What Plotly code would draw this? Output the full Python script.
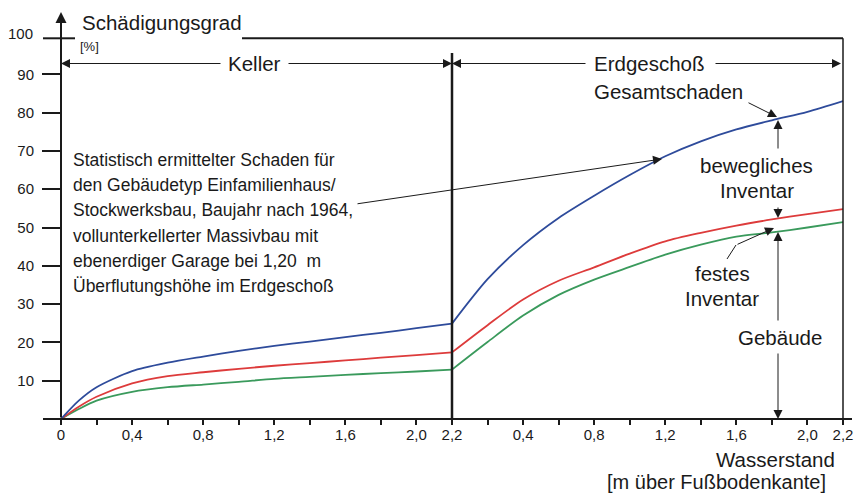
import plotly.graph_objects as go

# Wasserstand: 0-2,2 Keller, danach 2,2-4,4 = Erdgeschoß 0-2,2
wasserstand = [0, 0.1, 0.2, 0.4, 0.6, 0.8, 1.0, 1.2, 1.4, 1.6, 1.8, 2.0, 2.2,
               2.4, 2.6, 2.8, 3.0, 3.2, 3.4, 3.6, 3.8, 4.0, 4.2, 4.4]
gesamtschaden = [0, 4.8, 8.3, 12.5, 14.7, 16.3, 17.8, 19.1, 20.2, 21.4, 22.5, 23.7, 24.9,
                 36.5, 45.4, 52.5, 58.3, 63.7, 68.6, 72.5, 75.6, 78.0, 80.2, 83.0]
bewegliches = [0, 3.2, 5.8, 9.3, 11.2, 12.2, 13.1, 13.9, 14.6, 15.3, 16.0, 16.7, 17.4,
               24.5, 31.2, 36.1, 39.6, 43.2, 46.4, 48.6, 50.5, 52.1, 53.5, 54.8]
festes = [0, 2.6, 4.8, 7.1, 8.3, 9.0, 9.7, 10.5, 11.0, 11.5, 12.0, 12.4, 12.9,
          20.1, 27.0, 32.4, 36.4, 39.7, 42.9, 45.5, 47.6, 48.7, 50.0, 51.4]

tick_pos = [0, 0.2, 0.4, 0.6, 0.8, 1.0, 1.2, 1.4, 1.6, 1.8, 2.0, 2.2,
            2.4, 2.6, 2.8, 3.0, 3.2, 3.4, 3.6, 3.8, 4.0, 4.2, 4.4]
tick_text = ["0", "", "0,4", "", "0,8", "", "1,2", "", "1,6", "", "2,0", "2,2",
             "", "0,4", "", "0,8", "", "1,2", "", "1,6", "", "2,0", "2,2"]
y_ticks = [10, 20, 30, 40, 50, 60, 70, 80, 90]

beschreibung = ["Statistisch ermittelter Schaden für",
                "den Gebäudetyp Einfamilienhaus/",
                "Stockwerksbau, Baujahr nach 1964,",
                "vollunterkellerter Massivbau mit",
                "ebenerdiger Garage bei 1,20  m",
                "Überflutungshöhe im Erdgeschoß"]

ink = "#1a1a1a"
font = "Liberation Sans, Arial, sans-serif"

W, H = 855, 494
L, R, T, B = 61, 12, 36, 75
pw, ph = W - L - R, H - T - B


def px(x):
    return (x - L) / pw


def py(y):
    return (H - B - y) / ph


fig = go.Figure()
knick = wasserstand.index(2.2)  # Übergang Keller -> Erdgeschoß
for vals, col in [(festes, "#3a9a5c"), (bewegliches, "#dd3b3b"), (gesamtschaden, "#2e4b9b")]:
    for sl in (slice(0, knick + 1), slice(knick, None)):
        fig.add_trace(go.Scatter(x=wasserstand[sl], y=vals[sl], mode="lines",
                                 line=dict(color=col, width=1.8, shape="spline", smoothing=0.8),
                                 showlegend=False, hoverinfo="skip"))


def line(x0, y0, x1, y1, w=1.0):
    fig.add_shape(type="line", xref="paper", yref="paper",
                  x0=px(x0), y0=py(y0), x1=px(x1), y1=py(y1),
                  line=dict(color=ink, width=w))


def arrow(tail, tip, w=1.0, size=1.8):
    fig.add_annotation(x=px(tip[0]), y=py(tip[1]), xref="paper", yref="paper",
                       ax=tail[0] - tip[0], ay=tail[1] - tip[1], text="",
                       showarrow=True, arrowhead=2, arrowsize=size, arrowwidth=w,
                       arrowcolor=ink, standoff=0)


def label(x, y, text, size=20.5, anchor="center"):
    fig.add_annotation(x=px(x), y=py(y), xref="paper", yref="paper", text=text,
                       showarrow=False, xanchor=anchor, yanchor="middle",
                       font=dict(size=size, color=ink, family=font))


# Achsen und Rahmen
line(43, 419, 852, 419, 2)
arrow((61, 419), (61, 12), w=2, size=1.1)
line(43, 38.3, 75, 38.3, 2)
line(242, 38.3, 843, 38.3, 2)
line(452, 53, 452, 419, 2.5)
line(843, 38.3, 843, 419, 1.5)
label(35, 33, "100", size=15, anchor="right")
label(80, 22, "Schädigungsgrad", anchor="left")
label(78, 46, "[%]", size=13, anchor="left")

# Keller / Erdgeschoß
arrow((222, 63.5), (61, 63.5))
arrow((287, 63.5), (452, 63.5))
label(254, 63.5, "Keller")
arrow((587, 63.5), (452, 63.5))
arrow((714, 63.5), (841, 63.5))
label(649, 63.5, "Erdgeschoß")

# Beschriftungen rechts
label(668, 92, "Gesamtschaden")
arrow((747, 102), (777, 117))
arrow((778, 150), (778, 120))
label(756, 165, "bewegliches")
label(757, 190, "Inventar")
arrow((778, 206), (778, 218))
arrow((778, 322), (778, 232))
arrow((778, 352), (778, 419))
label(780, 337, "Gebäude")
label(722, 273, "festes")
label(722, 298, "Inventar")
line(727, 259, 736, 245)
arrow((736, 245), (774, 228))

# Textblock
for i, txt in enumerate(beschreibung):
    label(71, 160 + 25.2 * i, txt, size=17.5, anchor="left")
arrow((356, 204), (662, 159))

label(837, 459, "Wasserstand", anchor="right")
label(828, 482, "[m über Fußbodenkante]", size=20, anchor="right")

fig.update_layout(
    width=W, height=H,
    margin=dict(l=L, r=R, t=T, b=B),
    plot_bgcolor="white", paper_bgcolor="white",
    font=dict(family=font, color=ink, size=15),
    xaxis=dict(range=[0, 4.4], tickvals=tick_pos, ticktext=tick_text,
               ticks="outside", ticklen=5, tickwidth=2, tickcolor=ink,
               showgrid=False, zeroline=False, showline=False, automargin=False,
               ticklabelstandoff=-3, tickfont=dict(size=15)),
    yaxis=dict(range=[0, 100], tickvals=y_ticks, ticks="outside", ticklen=18,
               tickwidth=1.5, tickcolor=ink, showgrid=False, zeroline=False,
               showline=False, automargin=False, ticklabelstandoff=5,
               tickfont=dict(size=15)),
)

fig.write_html("out.html", config={"displayModeBar": False},
               post_script="document.body.style.margin='0';")
